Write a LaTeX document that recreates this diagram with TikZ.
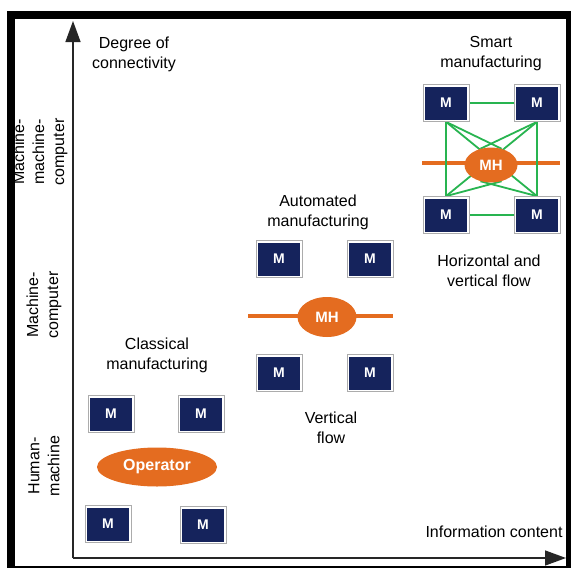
\documentclass[tikz,border=0pt]{standalone}
\usepackage{fontspec}
\setmainfont{Liberation Sans}
\usetikzlibrary{shapes.geometric,arrows.meta}
\pgfdeclarelayer{bg}
\pgfsetlayers{bg,main}
\definecolor{navy}{RGB}{21,35,92}
\definecolor{orng}{RGB}{228,108,32}
\definecolor{grn}{RGB}{40,180,80}
\begin{document}
\begin{tikzpicture}[x=1pt,y=-1pt,
 mbox/.style={rectangle, fill=white, draw=gray!65, line width=0.7pt, minimum width=46pt, minimum height=37pt, inner sep=0pt, text=white, font=\fontsize{14}{14}\selectfont\bfseries,
   path picture={\fill[navy] ([shift={(2pt,-2pt)}]path picture bounding box.north west) rectangle ([shift={(-2pt,2pt)}]path picture bounding box.south east);}},
 hub/.style={ellipse, fill=orng, draw=none, text=white, font=\fontsize{15}{15}\selectfont\bfseries, inner sep=0pt},
 lbl/.style={align=center, font=\fontsize{16}{20}\selectfont, inner sep=0pt},
 axis/.style={line width=1.4pt, draw=black!85, -{Triangle[length=21pt,width=15pt]}},
 olink/.style={draw=orng, line width=3.2pt},
 glink/.style={draw=grn, line width=1.8pt}]
\useasboundingbox (0,0) rectangle (571,568);
\begin{pgfonlayer}{bg}
\fill[white] (0,0) rectangle (571,568);
\end{pgfonlayer}
\draw[line width=8pt] (11,15) rectangle (570,570);

% axes
\coordinate (O) at (73,558);
\coordinate (Ytip) at (73,21);
\coordinate (Xtip) at (566,558);
\draw[axis] (O) -- (Ytip);
\draw[axis] (O) -- (Xtip);

% texts
\node[lbl] (dc) at (134,54) {Degree of\\connectivity};
\node[lbl] (sm) at (491,54) {Smart\\manufacturing};
\node[lbl] (hv) at (489,271) {Horizontal and\\vertical flow};
\node[lbl] (am) at (318,212) {Automated\\manufacturing};
\node[lbl] (vf) at (331,428) {Vertical\\flow};
\node[lbl] (cm) at (157,355) {Classical\\manufacturing};
\node[lbl] (ic) at (494,532) {Information content};
\node[lbl, rotate=90] (hm) at (44,466) {Human-\\machine};
\node[lbl, rotate=90] (mc) at (44,305) {Machine-\\computer};
\node[lbl, rotate=90] (mmc) at (40,152) {Machine-\\machine-\\computer};

% smart manufacturing
\node[mbox] (s1) at (446,103) {M};
\node[mbox] (s2) at (537,103) {M};
\node[mbox] (s3) at (446,215) {M};
\node[mbox] (s4) at (537,215) {M};
\node[hub, minimum width=53pt, minimum height=35pt] (mh3) at (491,165) {MH};
\coordinate (ol3) at (422,163);
\coordinate (or3) at (560,163);

% automated manufacturing
\node[mbox] (a1) at (279,259) {M};
\node[mbox] (a2) at (370,259) {M};
\node[mbox] (a3) at (279,373) {M};
\node[mbox] (a4) at (370,373) {M};
\node[hub, minimum width=59pt, minimum height=40pt] (mh2) at (327,317) {MH};
\coordinate (ol2) at (248,316);
\coordinate (or2) at (393,316);

% classical manufacturing
\node[mbox] (c1) at (111,414) {M};
\node[mbox] (c2) at (201,414) {M};
\node[mbox] (c3) at (108,524) {M};
\node[mbox] (c4) at (203,525) {M};
\node[hub, minimum width=120pt, minimum height=39pt, font=\fontsize{16}{16}\selectfont\bfseries] (op) at (157,467) {Operator};

\begin{pgfonlayer}{bg}
\draw[olink] (ol3) -- (or3);
\draw[olink] (ol2) -- (or2);
\draw[glink] (s1) -- (s2);
\draw[glink] (s3) -- (s4);
\draw[glink] (s1.south) -- (s3.north);
\draw[glink] (s2.south) -- (s4.north);
\draw[glink] (s1.south) -- (s4.north);
\draw[glink] (s2.south) -- (s3.north);
\draw[glink] (s1.south) -- (mh3.57);
\draw[glink] (s2.south) -- (mh3.123);
\draw[glink] (s3.north) -- (mh3.-57);
\draw[glink] (s4.north) -- (mh3.-123);
\end{pgfonlayer}
\end{tikzpicture}
\end{document}
